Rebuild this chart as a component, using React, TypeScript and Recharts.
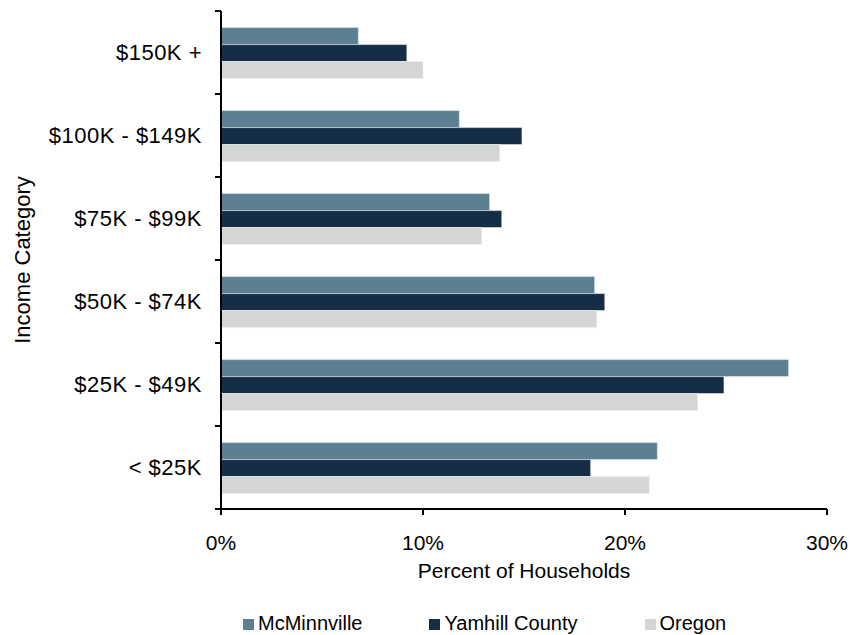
import { BarChart, Bar, XAxis, YAxis, Legend } from "recharts";

const categories = ["$150K +", "$100K - $149K", "$75K - $99K", "$50K - $74K", "$25K - $49K", "< $25K"];
const seriesNames = ["McMinnville", "Yamhill County", "Oregon"];
const mcminnville = [6.8, 11.8, 13.3, 18.5, 28.1, 21.6];
const yamhill = [9.2, 14.9, 13.9, 19.0, 24.9, 18.3];
const oregon = [10.0, 13.8, 12.9, 18.6, 23.6, 21.2];
const xTicks = [0, 10, 20, 30];

const data = categories.map((cat, i) => ({
  cat,
  mcminnville: mcminnville[i],
  yamhill: yamhill[i],
  oregon: oregon[i],
}));

const FONT = "'Liberation Sans', Arial, sans-serif";
const TICK_SIZE = 6;
const TICK_MARGIN = 13;

// category ticks sit between bands (Excel style), labels stay centered
const YTick = (props: any) => {
  const { x, y, payload, index } = props;
  const half = payload.offset || 41.5;
  const axisX = x + TICK_SIZE + TICK_MARGIN;
  return (
    <g>
      <line x1={axisX - TICK_SIZE} x2={axisX} y1={y - half} y2={y - half} stroke="#000" strokeWidth={2} />
      {index === categories.length - 1 && (
        <line x1={axisX - TICK_SIZE} x2={axisX} y1={y + half} y2={y + half} stroke="#000" strokeWidth={2} />
      )}
      <text x={x} y={y} dy="0.36em" textAnchor="end" fontSize={22} fill="#000" fontFamily={FONT} letterSpacing={0.5}>
        {payload.value}
      </text>
    </g>
  );
};

const LegendContent = (props: any) => {
  const items = [...(props.payload || [])].sort(
    (a: any, b: any) => seriesNames.indexOf(a.value) - seriesNames.indexOf(b.value)
  );
  return (
    <div style={{ display: "flex", height: 26, boxSizing: "border-box", paddingTop: 3, fontFamily: FONT }}>
      {items.map((entry: any) => (
        <div key={entry.value} style={{ display: "flex", alignItems: "baseline", marginRight: 67 }}>
          <span style={{ display: "inline-block", width: 11, height: 11, background: entry.color, marginRight: 4 }} />
          <span style={{ fontSize: 20, color: "#000" }}>{entry.value}</span>
        </div>
      ))}
    </div>
  );
};

export default function App() {
  return (
    <div style={{ position: "absolute", left: 0, top: 0, fontFamily: FONT }}>
      <BarChart
        width={860}
        height={635}
        data={data}
        layout="vertical"
        margin={{ top: 11, right: 33, left: 0, bottom: 0 }}
        barCategoryGap="20%"
        barGap={0}
      >
        <XAxis
          type="number"
          domain={[0, 30]}
          ticks={xTicks}
          tickFormatter={(v) => `${v}%`}
          height={100}
          tickSize={TICK_SIZE}
          tickMargin={20}
          axisLine={{ stroke: "#000", strokeWidth: 2 }}
          tickLine={{ stroke: "#000", strokeWidth: 2 }}
          tick={{ fontSize: 21, fill: "#000", fontFamily: FONT }}
          label={{ value: "Percent of Households", position: "insideTop", offset: 54, fontSize: 21, fill: "#000", fontFamily: FONT }}
        />
        <YAxis
          type="category"
          dataKey="cat"
          width={221}
          tickSize={TICK_SIZE}
          tickMargin={TICK_MARGIN}
          tickLine={false}
          axisLine={{ stroke: "#000", strokeWidth: 2 }}
          tick={<YTick />}
          label={{
            value: "Income Category",
            angle: -90,
            position: "insideLeft",
            offset: 22,
            fontSize: 22,
            fill: "#000",
            fontFamily: FONT,
            style: { textAnchor: "middle" },
          }}
        />
        <Legend
          verticalAlign="bottom"
          content={<LegendContent />}
          wrapperStyle={{ left: 243, width: "auto" }}
        />
        <Bar dataKey="mcminnville" name={seriesNames[0]} fill="#5d7f92" stroke="#e8eef2" strokeWidth={0.6} isAnimationActive={false} />
        <Bar dataKey="yamhill" name={seriesNames[1]} fill="#162d48" stroke="#e8eef2" strokeWidth={0.6} isAnimationActive={false} />
        <Bar dataKey="oregon" name={seriesNames[2]} fill="#d4d5d5" stroke="#f0f0f0" strokeWidth={0.6} isAnimationActive={false} />
      </BarChart>
    </div>
  );
}
